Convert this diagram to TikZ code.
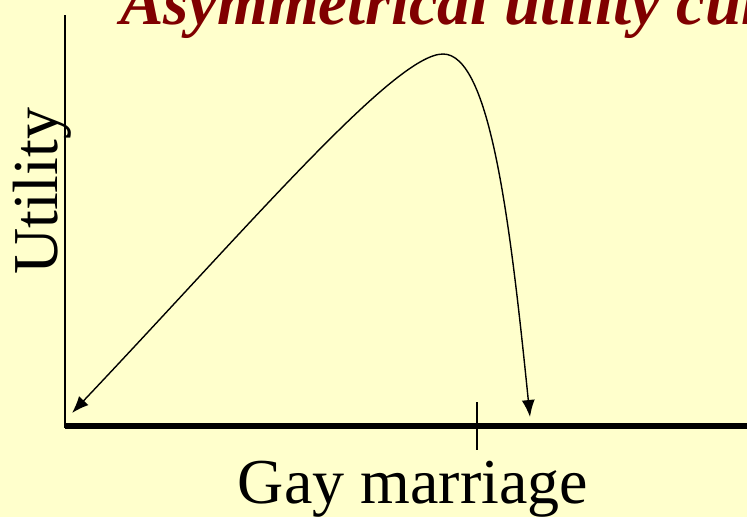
\documentclass[tikz,border=0pt]{standalone}
\usepackage{xcolor}
\usepackage{fontspec}
\setmainfont{Liberation Serif}
\usepackage{tikz}
\usetikzlibrary{arrows.meta,positioning,calc}
\definecolor{slidebg}{RGB}{255,255,204}
\definecolor{titlered}{RGB}{128,0,0}

\begin{document}
\begin{tikzpicture}[x=1pt,y=-1pt,
  axis/.style={line width=1.5pt},
  curve/.style={line width=1.4pt,{Latex[length=17pt,width=13pt]}-{Latex[length=17pt,width=13pt]}},
  lbl/.style={inner sep=0pt,font=\fontsize{64}{70}\selectfont}]
  \clip (0,0) rectangle (747,517);
  \fill[slidebg] (0,0) rectangle (747,517);
  \node[anchor=base west,inner sep=0pt,text=titlered,
    font=\fontsize{65}{72}\selectfont\bfseries\itshape] (title) at (120,24) {Asymmetrical utility curve};
  % axes
  \coordinate (o) at (65,426);
  \coordinate (peak) at (443,54);
  \draw[axis] (65,15) -- (65,428);
  \draw[line width=6pt] (o) -- (747,426);
  \draw[axis] (477,402) -- (477,450);
  % utility curve
  \draw[curve] (72,413) .. controls (250,225) and (395,54) .. (peak)
    .. controls (490,54) and (510,220) .. (530,417);
  \node[lbl,anchor=base] (xlab) at (413,503) {Gay marriage};
  \node[lbl,anchor=base west,rotate=90] (ylab) at (57,275) {Utility};
\end{tikzpicture}
\end{document}
